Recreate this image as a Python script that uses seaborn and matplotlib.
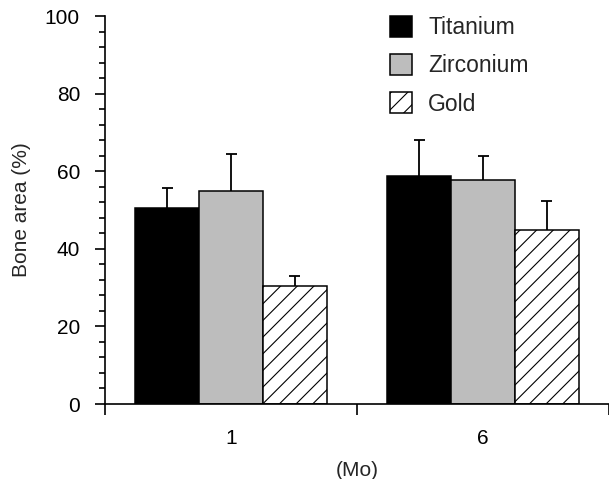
import matplotlib
matplotlib.use("Agg")
import matplotlib.pyplot as plt
from matplotlib.ticker import MultipleLocator, FixedLocator
import seaborn as sns
import pandas as pd
import numpy as np

# ---- data ----
months = ["1", "6"]
metals = ["Titanium", "Zirconium", "Gold"]
titanium_mean = [50.6, 58.8]
zirconium_mean = [54.8, 57.8]
gold_mean = [30.5, 44.8]
titanium_err = [5.1, 9.2]
zirconium_err = [9.6, 6.2]
gold_err = [2.6, 7.6]
y_ticks = [0, 20, 40, 60, 80, 100]
x_label = "(Mo)"
y_label = "Bone area (%)"

means = {"Titanium": titanium_mean, "Zirconium": zirconium_mean, "Gold": gold_mean}
errs = {"Titanium": titanium_err, "Zirconium": zirconium_err, "Gold": gold_err}
df = pd.DataFrame([
    {"Month": m, "Metal": metal, "Area": means[metal][i]}
    for metal in metals for i, m in enumerate(months)
])

sns.set_style("ticks")
plt.rcParams["font.family"] = ["Liberation Sans", "DejaVu Sans"]
plt.rcParams["hatch.linewidth"] = 0.8

W, H = 609, 479
fig = plt.figure(figsize=(W / 100, H / 100), dpi=100)
ax = fig.add_axes([105 / W, 1 - 404 / H, 504 / W, 388 / H])

colors = {"Titanium": "#000000", "Zirconium": "#bdbdbd", "Gold": "#ffffff"}
sns.barplot(data=df, x="Month", y="Area", hue="Metal", order=months,
            hue_order=metals, palette=colors, width=0.76, errorbar=None,
            edgecolor="black", linewidth=1.1, saturation=1, legend=False, ax=ax)

patches = list(ax.patches)
n = len(months)
cap_half = 5.5 / 252
for hi, metal in enumerate(metals):
    for ci in range(n):
        p = patches[hi * n + ci]
        if metal == "Gold":
            p.set_hatch("//")
        xc = p.get_x() + p.get_width() / 2
        top = p.get_height()
        e = errs[metal][ci]
        ax.vlines(xc, top, top + e, color="black", linewidth=1.3, zorder=3)
        ax.hlines(top + e, xc - cap_half, xc + cap_half, color="black",
                  linewidth=1.3, zorder=3)

ax.set_xlim(-0.5, 1.5)
ax.set_ylim(0, 100)
ax.set_yticks(y_ticks)
ax.yaxis.set_minor_locator(MultipleLocator(4))
ax.xaxis.set_minor_locator(FixedLocator([-0.5, 0.5, 1.5]))

for s in ["top", "right"]:
    ax.spines[s].set_visible(False)
for s in ["left", "bottom"]:
    ax.spines[s].set_linewidth(1.2)
    ax.spines[s].set_color("black")

ax.tick_params(axis="y", which="major", direction="out", length=7, width=1.2,
               labelsize=15, pad=11, colors="black")
ax.tick_params(axis="y", which="minor", direction="out", length=4.3, width=1.2,
               colors="black")
ax.tick_params(axis="x", which="major", length=0, labelsize=15, pad=18,
               colors="black")
ax.tick_params(axis="x", which="minor", direction="out", length=8, width=1.2,
               colors="black")

ax.set_xlabel(x_label, fontsize=15, labelpad=9)
ax.set_ylabel(y_label, fontsize=15, labelpad=10)

leg = ax.legend(handles=[patches[0], patches[n], patches[2 * n]], labels=metals,
                loc="upper left", bbox_to_anchor=(390 / W, 1 - 16 / H),
                bbox_transform=fig.transFigure, frameon=False, fontsize=16.5,
                handlelength=0.96, handleheight=1.0, handletextpad=0.7,
                labelspacing=0.66, borderpad=0, borderaxespad=0)

fig.savefig("out.png", dpi=100)
